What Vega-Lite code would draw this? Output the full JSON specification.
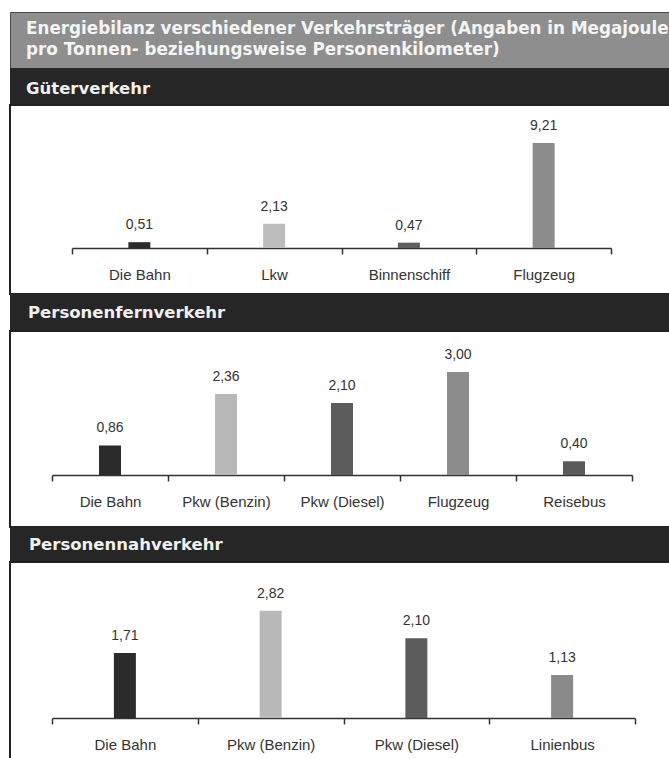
{
  "$schema": "https://vega.github.io/schema/vega-lite/v6.json",
  "background": "white",
  "padding": {"left": 9, "top": 11, "right": 0, "bottom": 0},
  "spacing": 0,
  "bounds": "flush",
  "datasets": {
    "energie": [
      {"Bereich": "Güterverkehr", "Verkehrsmittel": "Die Bahn", "Wert": 0.51},
      {"Bereich": "Güterverkehr", "Verkehrsmittel": "Lkw", "Wert": 2.13},
      {"Bereich": "Güterverkehr", "Verkehrsmittel": "Binnenschiff", "Wert": 0.47},
      {"Bereich": "Güterverkehr", "Verkehrsmittel": "Flugzeug", "Wert": 9.21},
      {"Bereich": "Personenfernverkehr", "Verkehrsmittel": "Die Bahn", "Wert": 0.86},
      {"Bereich": "Personenfernverkehr", "Verkehrsmittel": "Pkw (Benzin)", "Wert": 2.36},
      {"Bereich": "Personenfernverkehr", "Verkehrsmittel": "Pkw (Diesel)", "Wert": 2.10},
      {"Bereich": "Personenfernverkehr", "Verkehrsmittel": "Flugzeug", "Wert": 3.00},
      {"Bereich": "Personenfernverkehr", "Verkehrsmittel": "Reisebus", "Wert": 0.40},
      {"Bereich": "Personennahverkehr", "Verkehrsmittel": "Die Bahn", "Wert": 1.71},
      {"Bereich": "Personennahverkehr", "Verkehrsmittel": "Pkw (Benzin)", "Wert": 2.82},
      {"Bereich": "Personennahverkehr", "Verkehrsmittel": "Pkw (Diesel)", "Wert": 2.10},
      {"Bereich": "Personennahverkehr", "Verkehrsmittel": "Linienbus", "Wert": 1.13}
    ],
    "titel": [
      {"Text": "Energiebilanz verschiedener Verkehrsträger (Angaben in Megajoule\npro Tonnen- beziehungsweise Personenkilometer)"}
    ],
    "bereiche": [
      {"Bereich": "Güterverkehr"},
      {"Bereich": "Personenfernverkehr"},
      {"Bereich": "Personennahverkehr"}
    ]
  },
  "vconcat": [
    {
      "width": 660, "height": 56,
      "view": {"fill": "#8e8e8e", "stroke": "#4a4a4a", "strokeWidth": 1},
      "data": {"name": "titel"},
      "mark": {"type": "text", "align": "left", "baseline": "alphabetic", "lineBreak": "\n", "lineHeight": 21, "dx": 16, "font": "DejaVu Sans", "fontWeight": "bold", "fontSize": 16.8, "color": "#f4f4f4"},
      "encoding": {"text": {"field": "Text"}, "x": {"value": 0}, "y": {"value": 22}}
    },
    {
      "width": 660, "height": 37,
      "view": {"fill": "#262626", "stroke": null},
      "data": {"name": "bereiche"},
      "transform": [{"filter": "datum.Bereich === 'Güterverkehr'"}],
      "mark": {"type": "text", "align": "left", "baseline": "alphabetic", "dx": 16, "font": "DejaVu Sans", "fontWeight": "bold", "fontSize": 16.5, "color": "#f0f0f0"},
      "encoding": {"text": {"field": "Bereich"}, "x": {"value": 0}, "y": {"value": 26}}
    },
    {
      "width": 660, "height": 189,
      "view": {"fill": "white", "stroke": "#222222", "strokeWidth": 2},
      "data": {"name": "energie"},
      "transform": [{"filter": "datum.Bereich === 'Güterverkehr'"}],
      "encoding": {
        "x": {
          "field": "Verkehrsmittel", "type": "nominal", "sort": null,
          "scale": {"range": [62, 601], "paddingInner": 0, "paddingOuter": 0},
          "axis": {"title": null, "offset": -46}
        },
        "y": {
          "field": "Wert", "type": "quantitative",
          "scale": {"domain": [-4.035, 12.544], "nice": false, "zero": false},
          "axis": null
        }
      },
      "layer": [
        {
          "mark": {"type": "bar", "width": 22},
          "encoding": {
            "color": {
              "field": "Verkehrsmittel", "type": "nominal", "legend": null,
              "scale": {
                "domain": ["Die Bahn", "Lkw", "Binnenschiff", "Flugzeug", "Pkw (Benzin)", "Pkw (Diesel)", "Reisebus", "Linienbus"],
                "range": ["#2b2b2b", "#bcbcbc", "#606060", "#8c8c8c", "#b8b8b8", "#5c5c5c", "#5a5a5a", "#8a8a8a"]
              }
            }
          }
        },
        {
          "mark": {"type": "text", "baseline": "alphabetic", "dy": -13, "font": "Liberation Sans", "fontSize": 14, "color": "#333333"},
          "encoding": {"text": {"field": "Wert", "type": "quantitative", "format": ".2f"}}
        }
      ]
    },
    {
      "width": 660, "height": 37,
      "view": {"fill": "#262626", "stroke": null},
      "data": {"name": "bereiche"},
      "transform": [{"filter": "datum.Bereich === 'Personenfernverkehr'"}],
      "mark": {"type": "text", "align": "left", "baseline": "alphabetic", "dx": 18, "font": "DejaVu Sans", "fontWeight": "bold", "fontSize": 16.5, "color": "#f0f0f0"},
      "encoding": {"text": {"field": "Bereich"}, "x": {"value": 0}, "y": {"value": 24}}
    },
    {
      "width": 660, "height": 196,
      "view": {"fill": "white", "stroke": "#222222", "strokeWidth": 2},
      "data": {"name": "energie"},
      "transform": [{"filter": "datum.Bereich === 'Personenfernverkehr'"}],
      "encoding": {
        "x": {
          "field": "Verkehrsmittel", "type": "nominal", "sort": null,
          "scale": {"range": [42, 622], "paddingInner": 0, "paddingOuter": 0},
          "axis": {"title": null, "offset": -52}
        },
        "y": {
          "field": "Wert", "type": "quantitative",
          "scale": {"domain": [-1.515, 4.195], "nice": false, "zero": false},
          "axis": null
        }
      },
      "layer": [
        {
          "mark": {"type": "bar", "width": 22},
          "encoding": {
            "color": {
              "field": "Verkehrsmittel", "type": "nominal", "legend": null,
              "scale": {
                "domain": ["Die Bahn", "Lkw", "Binnenschiff", "Flugzeug", "Pkw (Benzin)", "Pkw (Diesel)", "Reisebus", "Linienbus"],
                "range": ["#2b2b2b", "#bcbcbc", "#606060", "#8c8c8c", "#b8b8b8", "#5c5c5c", "#5a5a5a", "#8a8a8a"]
              }
            }
          }
        },
        {
          "mark": {"type": "text", "baseline": "alphabetic", "dy": -13, "font": "Liberation Sans", "fontSize": 14, "color": "#333333"},
          "encoding": {"text": {"field": "Wert", "type": "quantitative", "format": ".2f"}}
        }
      ]
    },
    {
      "width": 660, "height": 35,
      "view": {"fill": "#262626", "stroke": null},
      "data": {"name": "bereiche"},
      "transform": [{"filter": "datum.Bereich === 'Personennahverkehr'"}],
      "mark": {"type": "text", "align": "left", "baseline": "alphabetic", "dx": 19, "font": "DejaVu Sans", "fontWeight": "bold", "fontSize": 16.5, "color": "#f0f0f0"},
      "encoding": {"text": {"field": "Bereich"}, "x": {"value": 0}, "y": {"value": 23}}
    },
    {
      "width": 660, "height": 197,
      "view": {"fill": "white", "stroke": "#222222", "strokeWidth": 2},
      "data": {"name": "energie"},
      "transform": [{"filter": "datum.Bereich === 'Personennahverkehr'"}],
      "encoding": {
        "x": {
          "field": "Verkehrsmittel", "type": "nominal", "sort": null,
          "scale": {"range": [42, 625], "paddingInner": 0, "paddingOuter": 0},
          "axis": {"title": null, "offset": -41}
        },
        "y": {
          "field": "Wert", "type": "quantitative",
          "scale": {"domain": [-1.079, 4.105], "nice": false, "zero": false},
          "axis": null
        }
      },
      "layer": [
        {
          "mark": {"type": "bar", "width": 22},
          "encoding": {
            "color": {
              "field": "Verkehrsmittel", "type": "nominal", "legend": null,
              "scale": {
                "domain": ["Die Bahn", "Lkw", "Binnenschiff", "Flugzeug", "Pkw (Benzin)", "Pkw (Diesel)", "Reisebus", "Linienbus"],
                "range": ["#2b2b2b", "#bcbcbc", "#606060", "#8c8c8c", "#b8b8b8", "#5c5c5c", "#5a5a5a", "#8a8a8a"]
              }
            }
          }
        },
        {
          "mark": {"type": "text", "baseline": "alphabetic", "dy": -13, "font": "Liberation Sans", "fontSize": 14, "color": "#333333"},
          "encoding": {"text": {"field": "Wert", "type": "quantitative", "format": ".2f"}}
        }
      ]
    }
  ],
  "config": {
    "locale": {"number": {"decimal": ",", "thousands": ".", "grouping": [3], "currency": ["", " €"]}},
    "view": {"stroke": null},
    "axis": {
      "grid": false,
      "labelAngle": 0,
      "labelFont": "Liberation Sans",
      "labelFontSize": 15,
      "labelColor": "#333333",
      "labelPadding": 13,
      "labelOverlap": false,
      "domainColor": "#333333",
      "domainWidth": 1.5,
      "tickColor": "#333333",
      "tickWidth": 1.5,
      "tickSize": 6,
      "tickBand": "extent"
    }
  }
}
